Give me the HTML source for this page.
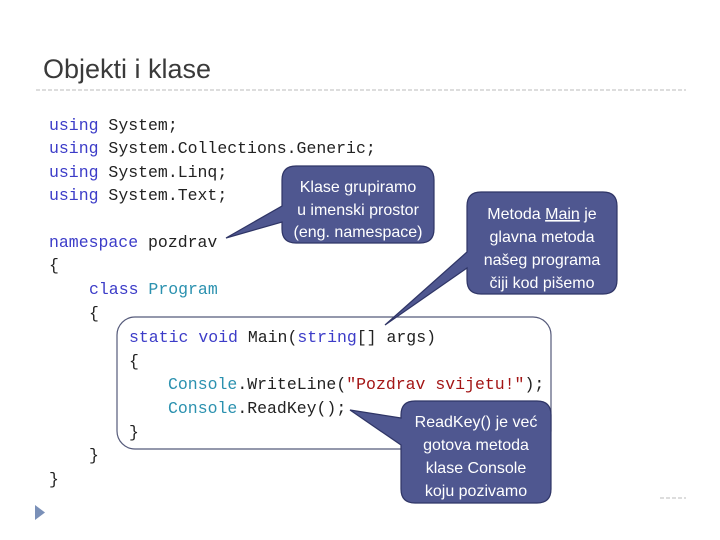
<!DOCTYPE html>
<html><head><meta charset="utf-8"><style>
html,body{margin:0;padding:0;background:#fff;}
svg{display:block}
.c{font-family:"Liberation Mono",monospace;font-size:16.5px;fill:#222;}
.k{fill:#3c3cc8}.t{fill:#2b91af}.s{fill:#a31515}
.w{font-family:"Liberation Sans",sans-serif;font-size:16px;fill:#fff;text-anchor:middle;}
</style></head><body>
<svg width="720" height="540" viewBox="0 0 720 540">
<text x="43" y="78" font-family="Liberation Sans,sans-serif" font-size="27" fill="#3a3a3a">Objekti i klase</text>
<line x1="36" y1="90" x2="686" y2="90" stroke="#bbb" stroke-width="1" stroke-dasharray="4,2"/>
<g class="c">
<text x="49" y="130"><tspan class="k">using</tspan> System;</text>
<text x="49" y="153"><tspan class="k">using</tspan> System.Collections.Generic;</text>
<text x="49" y="177"><tspan class="k">using</tspan> System.Linq;</text>
<text x="49" y="200"><tspan class="k">using</tspan> System.Text;</text>
<text x="49" y="247"><tspan class="k">namespace</tspan> pozdrav</text>
<text x="49" y="270">{</text>
<text x="89" y="294"><tspan class="k">class</tspan> <tspan class="t">Program</tspan></text>
<text x="89" y="318">{</text>
</g>
<rect x="117" y="317" width="434" height="132" rx="18" fill="#fff" stroke="#555a7a" stroke-width="1.2"/>
<g class="c">
<text x="129" y="342"><tspan class="k">static</tspan> <tspan class="k">void</tspan> Main(<tspan class="k">string</tspan>[] args)</text>
<text x="129" y="366">{</text>
<text x="168" y="389"><tspan class="t">Console</tspan>.WriteLine(<tspan class="s">"Pozdrav svijetu!"</tspan>);</text>
<text x="168" y="413"><tspan class="t">Console</tspan>.ReadKey();</text>
<text x="129" y="437">}</text>
<text x="89" y="460">}</text>
<text x="49" y="484">}</text>
</g>
<g fill="#4f5790" stroke="#2f3566" stroke-width="1.2">
<path d="M296,166 H420 Q434,166 434,180 V229 Q434,243 420,243 H296 Q282,243 282,229 V222 L226,238 L282,206 V180 Q282,166 296,166 Z"/>
<path d="M481,192 H603 Q617,192 617,206 V280 Q617,294 603,294 H481 Q467,294 467,280 V268 L385,325 L467,252 V206 Q467,192 481,192 Z"/>
<path d="M415,401 H537 Q551,401 551,415 V489 Q551,503 537,503 H415 Q401,503 401,489 V445 L350,410 L401,418 V415 Q401,401 415,401 Z"/>
</g>
<g class="w">
<text x="358" y="192">Klase grupiramo</text>
<text x="358" y="215">u imenski prostor</text>
<text x="358" y="237">(eng. namespace)</text>
<text x="542" y="219">Metoda <tspan text-decoration="underline">Main</tspan> je</text>
<text x="542" y="242">glavna metoda</text>
<text x="542" y="265">našeg programa</text>
<text x="542" y="288">čiji kod pišemo</text>
<text x="476" y="427">ReadKey() je već</text>
<text x="476" y="450">gotova metoda</text>
<text x="476" y="473">klase Console</text>
<text x="476" y="496">koju pozivamo</text>
</g>
<line x1="660" y1="498" x2="686" y2="498" stroke="#bbb" stroke-dasharray="4,2"/>
<polygon points="35,505 35,520 45,512.5" fill="#7a90b8"/>
</svg>
</body></html>
